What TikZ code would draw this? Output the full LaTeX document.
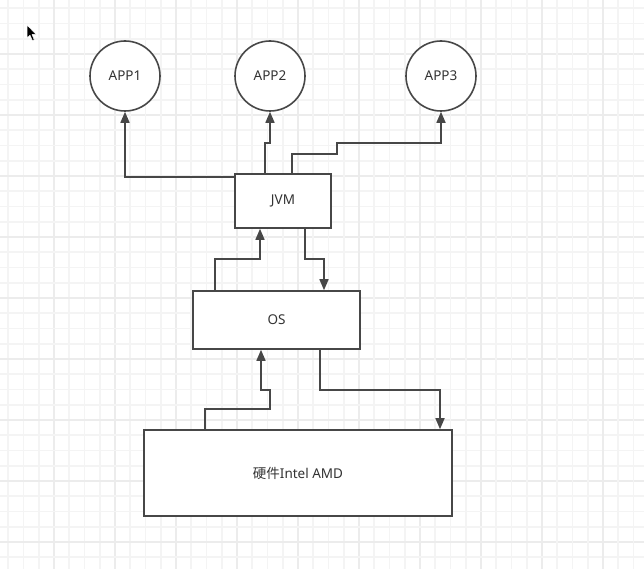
\documentclass[tikz,border=0pt]{standalone}
\usepackage{fontspec}
\setmainfont{Noto Sans}
\newfontfamily\cjk{Noto Sans CJK SC}
\usetikzlibrary{arrows.meta}
\definecolor{edge}{HTML}{474747}
\definecolor{ink}{HTML}{333333}
\definecolor{gridminor}{HTML}{F4F4F4}
\definecolor{gridmajor}{HTML}{ECECEC}
\tikzset{
  app/.style={circle, draw=edge, line width=1.6pt, fill=white, minimum size=70pt, inner sep=0pt, text=ink, font=\fontsize{13.5}{15}\selectfont},
  layer/.style={rectangle, draw=edge, line width=1.6pt, fill=white, inner sep=0pt, text=ink, font=\fontsize{13.5}{15}\selectfont},
  conn/.style={draw=edge, line width=1.6pt, -{Triangle[length=11pt,width=9pt]}},
}
\begin{document}
\begin{tikzpicture}[x=1pt,y=-1pt]
  \useasboundingbox (0,0) rectangle (644,569);
  \fill[white] (0,0) rectangle (644,569);
  % background grid
  \foreach \i in {0,...,43} {
    \pgfmathsetmacro{\g}{-7+15.25*\i}
    \pgfmathtruncatemacro{\m}{mod(\i,4)}
    \ifnum\m=0
      \draw[gridmajor, line width=2pt] (\g,0) -- (\g,569);
      \draw[gridmajor, line width=2pt] (0,\g) -- (644,\g);
    \else
      \draw[gridminor, line width=1.8pt] (\g,0) -- (\g,569);
      \draw[gridminor, line width=1.8pt] (0,\g) -- (644,\g);
    \fi
  }
  % mouse pointer
  \filldraw[fill=black, draw=white, line width=0.5pt, line join=round]
    (27,25) -- (27,38) -- (30,35.2) -- (32.4,40.6) -- (34.3,39.8) -- (32,34.5) -- (36,34.3) -- cycle;

  % applications
  \node[app] (app1) at (125,76) {APP1};
  \node[app] (app2) at (270,76) {APP2};
  \node[app] (app3) at (441,76) {APP3};

  % layers
  \node[layer, minimum width=96pt, minimum height=54pt] (jvm) at (283,201) {JVM};
  \node[layer, minimum width=167pt, minimum height=58pt] (os) at (276.5,320) {OS};
  \node[layer, minimum width=308pt, minimum height=86pt] (hw) at (298,473) {{\cjk 硬件}Intel AMD};

  % JVM up to the applications
  \draw[conn] ([yshift=-4pt]jvm.north west) -| (app1.south);
  \draw[conn] ([xshift=31pt]jvm.north west) |- (270,143) -- (app2.south);
  \draw[conn] ([xshift=58pt]jvm.north west) |- (337,154) |- (441,143) -- (app3.south);

  % JVM <-> OS
  \draw[conn] ([xshift=23pt]os.north west) |- (260,259) -- ([xshift=-23pt]jvm.south);
  \draw[conn] ([xshift=22pt]jvm.south) |- (324,259) -- ([xshift=47.5pt]os.north);

  % OS <-> hardware
  \draw[conn] ([xshift=62pt]hw.north west) |- (270,409) |- (261,390) -- ([xshift=-15.5pt]os.south);
  \draw[conn] ([xshift=43.5pt]os.south) |- (440,390) -- ([xshift=142pt]hw.north);
\end{tikzpicture}
\end{document}
